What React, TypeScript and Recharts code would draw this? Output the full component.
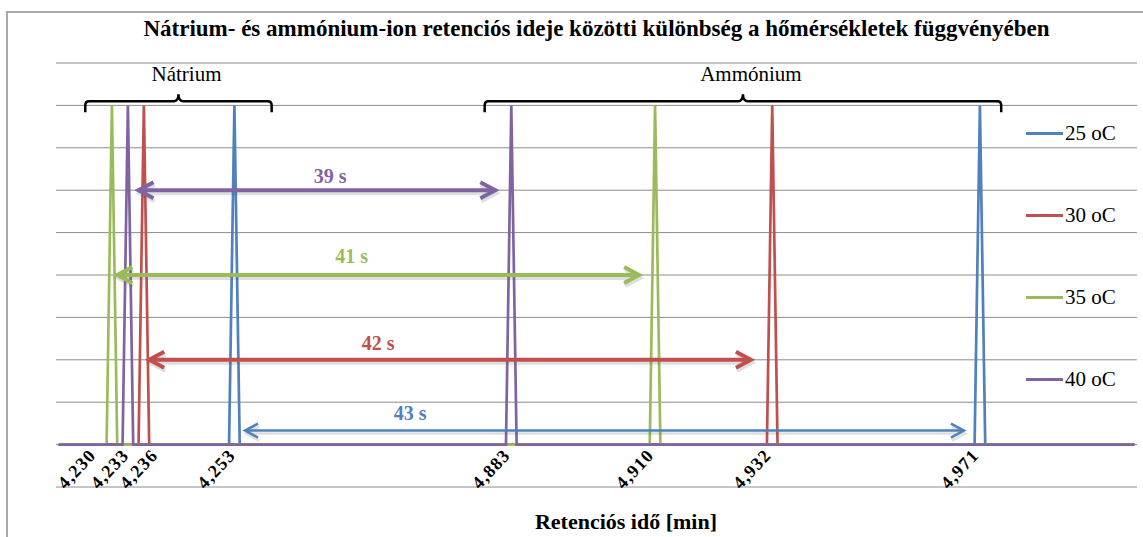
import React from 'react';
import {
  LineChart,
  Line,
  XAxis,
  YAxis,
  CartesianGrid,
  ReferenceLine,
  ReferenceDot,
  Legend,
} from 'recharts';

// ---- data ----
// category axis: retention times in thousandths of a minute (two recorded windows)
const axisWindows: [number, number][] = [
  [4220, 4280],
  [4859, 5000],
];
const seriesNames = ['25 oC', '30 oC', '35 oC', '40 oC'];
const sodiumPeaks = ['4,253', '4,236', '4,230', '4,233'];
const ammoniumPeaks = ['4,971', '4,932', '4,910', '4,883'];
const peakHeight = 8;
const tickLabels = ['4,230', '4,233', '4,236', '4,253', '4,883', '4,910', '4,932', '4,971'];
const yTicks = [-1, 0, 1, 2, 3, 4, 5, 6, 7, 8, 9];

const groupNames = ['Nátrium', 'Ammónium'];
const groupFrom = ['4,225', '4,878'];
const groupTo = ['4,260', '4,975'];
const groupLevel = 8.1;

const gapLabels = ['39 s', '41 s', '42 s', '43 s'];
const gapSeries = [3, 2, 1, 0];
const gapFrom = ['4,235', '4,231', '4,237', '4,255'];
const gapTo = ['4,880', '4,907', '4,928', '4,968'];
const gapLevel = [6, 4, 2, 0.33];
const gapLabelAt = ['4,271', '4,275', '4,280', '4,864'];
const gapLabelLevel = [6.18, 4.29, 2.24, 0.59];

// ---- styles ----
const colors = ['#4F81BD', '#C0504D', '#9BBB59', '#8064A2'];
const serif = '"Liberation Serif", "Times New Roman", serif';
// horizontal nudges (px) that spread the crowded sodium tick labels apart
const tickNudge: Record<string, number> = { '4,230': -15, '4,233': 2, '4,236': 15, '4,253': 2 };

const fmt = (m: number) => (m / 1000).toFixed(3).replace('.', ',');
const categories: string[] = [];
axisWindows.forEach(([a, b]) => {
  for (let m = a; m <= b; m++) categories.push(fmt(m));
});
const rows = categories.map((t) => {
  const r: Record<string, string | number> = { t };
  seriesNames.forEach((s, i) => {
    r[s] = t === sodiumPeaks[i] || t === ammoniumPeaks[i] ? peakHeight : 0;
  });
  return r;
});

const Tick = (props: any) => {
  const { x, y, payload } = props;
  const ax = x + (tickNudge[payload.value] ?? 0);
  const ay = y - 31;
  return (
    <text
      x={ax}
      y={ay}
      transform={`rotate(-47 ${ax} ${ay})`}
      textAnchor="end"
      fontFamily={serif}
      fontWeight="bold"
      fontSize={18}
      letterSpacing={1.2}
      fill="#000"
    >
      {payload.value}
    </text>
  );
};

const makeArrow = (color: string, w: number) => (p: any) => {
  const { x1, y1, x2, y2 } = p;
  const a = w > 3 ? 15 : 13;
  const b = w > 3 ? 8 : 7;
  const body = (stroke: string) => (
    <>
      <line x1={x1 + 2} y1={y1} x2={x2 - 2} y2={y2} stroke={stroke} strokeWidth={w} />
      <polyline
        points={`${x1 + a},${y1 - b} ${x1},${y1} ${x1 + a},${y1 + b}`}
        fill="none"
        stroke={stroke}
        strokeWidth={w}
      />
      <polyline
        points={`${x2 - a},${y2 - b} ${x2},${y2} ${x2 - a},${y2 + b}`}
        fill="none"
        stroke={stroke}
        strokeWidth={w}
      />
    </>
  );
  return (
    <g>
      <g transform="translate(1,3)" opacity={0.18}>{body('#555')}</g>
      {body(color)}
    </g>
  );
};

const makeBrace = (name: string) => (p: any) => {
  const { x1, x2, y1 } = p;
  const y = y1;
  const xc = (x1 + x2) / 2;
  const d = `M ${x1} ${y + 11} L ${x1} ${y + 4} Q ${x1} ${y} ${x1 + 4} ${y} L ${xc - 5} ${y} Q ${xc} ${y} ${xc} ${y - 7} Q ${xc} ${y} ${xc + 5} ${y} L ${x2 - 4} ${y} Q ${x2} ${y} ${x2} ${y + 4} L ${x2} ${y + 11}`;
  return (
    <g>
      <path d={d} fill="none" stroke="#000" strokeWidth={2.5} />
      <text x={xc + 8} y={y - 20} textAnchor="middle" fontFamily={serif} fontSize={21} fill="#000">
        {name}
      </text>
    </g>
  );
};

const LegendContent = () => (
  <div style={{ fontFamily: serif, fontSize: 21, color: '#000' }}>
    {seriesNames.map((s, i) => (
      <div key={s} style={{ display: 'flex', alignItems: 'center', height: 82 }}>
        <div style={{ width: 37, height: 3, background: colors[i], marginRight: 2 }} />
        <span>{s}</span>
      </div>
    ))}
  </div>
);

export default function App() {
  return (
    <div style={{ position: 'relative', width: 1143, height: 537, overflow: 'hidden', background: '#fff' }}>
      <style>{'body{margin:0}'}</style>
      <div
        style={{
          position: 'absolute',
          left: 6,
          top: 11,
          width: 1300,
          height: 700,
          border: '2px solid #ababab',
        }}
      />
      <div
        style={{
          position: 'absolute',
          left: 0,
          width: 1143,
          top: 16,
          textAlign: 'center',
          fontFamily: serif,
          fontWeight: 'bold',
          fontSize: 23,
          paddingLeft: 50,
          boxSizing: 'border-box',
          whiteSpace: 'nowrap',
        }}
      >
        Nátrium- és ammónium-ion retenciós ideje közötti különbség a hőmérsékletek függvényében
      </div>
      <div
        style={{
          position: 'absolute',
          left: 0,
          width: 1252,
          top: 509,
          textAlign: 'center',
          fontFamily: serif,
          fontWeight: 'bold',
          fontSize: 22,
        }}
      >
        Retenciós idő [min]
      </div>
      <div style={{ position: 'absolute', left: 0, top: 0 }}>
        <LineChart width={1143} height={537} data={rows} margin={{ top: 63, right: 6, bottom: 20, left: 56 }}>
          <CartesianGrid vertical={false} stroke="#8c8c8c" strokeWidth={1} />
          <XAxis
            dataKey="t"
            scale="band"
            ticks={tickLabels}
            interval={0}
            tick={<Tick />}
            tickLine={false}
            axisLine={false}
            tickSize={0}
            tickMargin={0}
            height={30}
          />
          <YAxis hide domain={[-1, 9]} ticks={yTicks} type="number" />
          {seriesNames.map((s, i) => (
            <Line
              key={s}
              dataKey={s}
              type="linear"
              stroke={colors[i]}
              strokeWidth={2.7}
              dot={false}
              activeDot={false}
              isAnimationActive={false}
            />
          ))}
          {groupNames.map((g, i) => (
            <ReferenceLine
              key={g}
              ifOverflow="visible"
              segment={[
                { x: groupFrom[i], y: groupLevel },
                { x: groupTo[i], y: groupLevel },
              ]}
              shape={makeBrace(g)}
            />
          ))}
          {gapLabels.map((g, i) => (
            <ReferenceLine
              key={g}
              ifOverflow="visible"
              segment={[
                { x: gapFrom[i], y: gapLevel[i] },
                { x: gapTo[i], y: gapLevel[i] },
              ]}
              shape={makeArrow(colors[gapSeries[i]], i === 3 ? 2.5 : 4)}
            />
          ))}
          {gapLabels.map((g, i) => (
            <ReferenceDot
              key={'l' + g}
              x={gapLabelAt[i]}
              y={gapLabelLevel[i]}
              r={0}
              ifOverflow="visible"
              shape={(p: any) => (
                <text
                  x={p.cx}
                  y={p.cy}
                  textAnchor="middle"
                  fontFamily={serif}
                  fontWeight="bold"
                  fontSize={20}
                  fill={colors[gapSeries[i]]}
                >
                  {g}
                </text>
              )}
            />
          ))}
          <Legend
            layout="vertical"
            align="center"
            verticalAlign="middle"
            wrapperStyle={{ left: 1026, top: 92, width: 117 }}
            content={<LegendContent />}
          />
        </LineChart>
      </div>
    </div>
  );
}
